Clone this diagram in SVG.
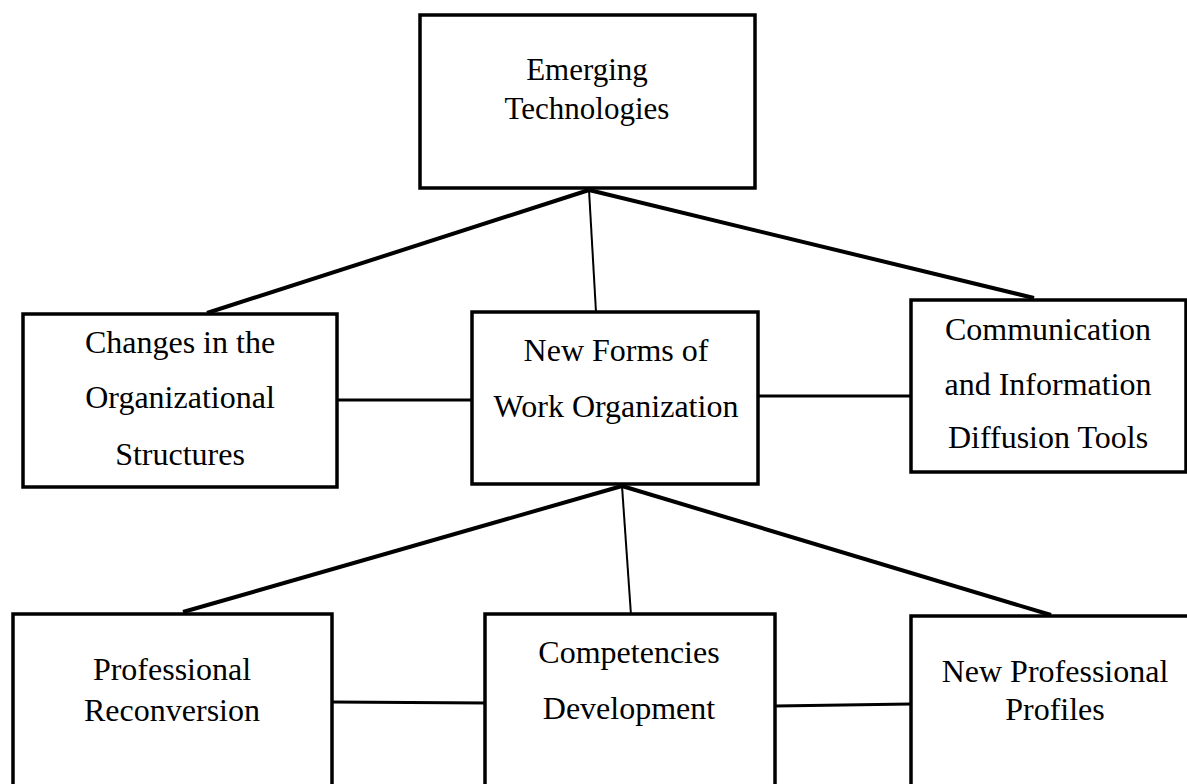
<svg xmlns="http://www.w3.org/2000/svg" width="1187" height="784" viewBox="0 0 1187 784">
  <style>
    .box { fill: #ffffff; stroke: #000000; stroke-width: 3.5; }
    .lbl { font-family: "Liberation Serif", "Times New Roman", serif; font-size: 32px; fill: #000000; text-anchor: middle; }
    .top { font-size: 31px; }
    .thick { stroke: #000000; stroke-width: 4; fill: none; }
    .thin { stroke: #000000; stroke-width: 2; fill: none; }
    .link { stroke: #000000; stroke-width: 3; fill: none; }
  </style>
  <rect width="1187" height="784" fill="#ffffff"/>

  <g id="connectors">
    <line class="thick" x1="589" y1="190" x2="207" y2="313"/>
    <line class="thin" x1="589" y1="190" x2="596" y2="312"/>
    <line class="thick" x1="589" y1="190" x2="1034" y2="298"/>
    <line class="link" x1="337" y1="400" x2="473" y2="400"/>
    <line class="link" x1="758" y1="396" x2="911" y2="396"/>
    <line class="thick" x1="622" y1="486" x2="183" y2="612"/>
    <line class="thin" x1="622" y1="486" x2="631" y2="615"/>
    <line class="thick" x1="622" y1="486" x2="1051" y2="615"/>
    <line class="link" x1="332" y1="702" x2="487" y2="703"/>
    <line class="link" x1="775" y1="706" x2="911" y2="704"/>
  </g>

  <g id="emerging-technologies">
    <rect class="box" x="420" y="15" width="335" height="173"/>
    <text class="lbl top" x="587" y="80">Emerging</text>
    <text class="lbl top" x="587" y="119">Technologies</text>
  </g>

  <g id="organizational-structures">
    <rect class="box" x="23" y="314" width="314" height="173"/>
    <text class="lbl" x="180" y="353">Changes in the</text>
    <text class="lbl" x="180" y="408">Organizational</text>
    <text class="lbl" x="180" y="465">Structures</text>
  </g>

  <g id="work-organization">
    <rect class="box" x="472" y="312" width="286" height="172"/>
    <text class="lbl" x="616" y="361">New Forms of</text>
    <text class="lbl" x="616" y="417">Work Organization</text>
  </g>

  <g id="communication-tools">
    <rect class="box" x="911" y="300" width="275" height="172"/>
    <text class="lbl" x="1048" y="340">Communication</text>
    <text class="lbl" x="1048" y="395">and Information</text>
    <text class="lbl" x="1048" y="448">Diffusion Tools</text>
  </g>

  <g id="professional-reconversion">
    <rect class="box" x="13" y="614" width="319" height="200"/>
    <text class="lbl" x="172" y="680">Professional</text>
    <text class="lbl" x="172" y="721">Reconversion</text>
  </g>

  <g id="competencies-development">
    <rect class="box" x="485" y="614" width="290" height="200"/>
    <text class="lbl" x="629" y="663">Competencies</text>
    <text class="lbl" x="629" y="719">Development</text>
  </g>

  <g id="new-professional-profiles">
    <rect class="box" x="911" y="616" width="300" height="200"/>
    <text class="lbl" x="1055" y="682">New Professional</text>
    <text class="lbl" x="1055" y="720">Profiles</text>
  </g>
</svg>
